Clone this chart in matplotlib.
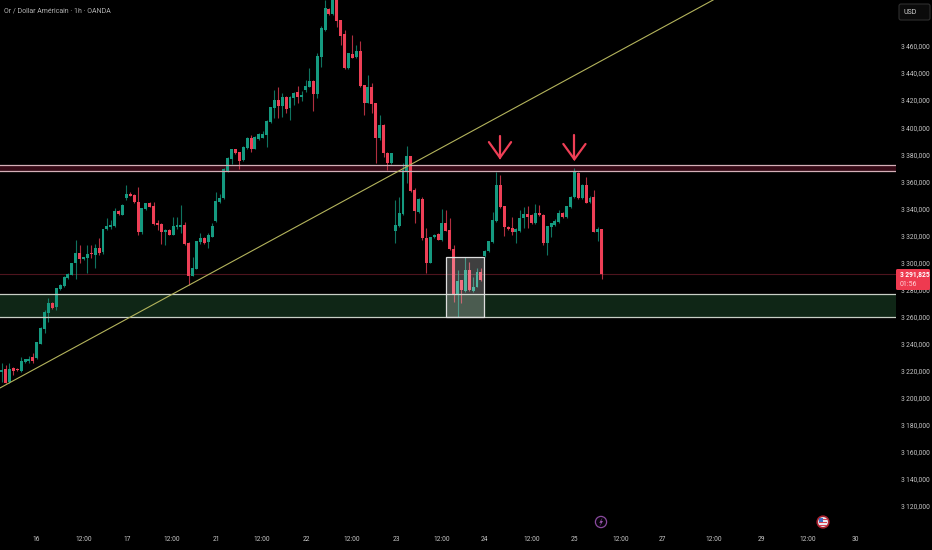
import matplotlib
matplotlib.use("Agg")
import matplotlib.pyplot as plt
from matplotlib.patches import Circle, FancyBboxPatch, Polygon, Rectangle
from matplotlib.transforms import IdentityTransform

opens = [3219,3221.1,3212,3222,3221.4,3220,3226.3,3227.5,3230.5,3229.7,
3240,3251,3263,3270,3267,3280.5,3282.7,3288.8,3291,3299.4,
3306.8,3302.4,3303,3306.8,3305.8,3311,3307.8,3324.6,3326,3327,
3337.9,3335.4,3347.5,3350.7,3350,3344.8,3322.6,3339.3,3343.8,3341.8,
3329.5,3328.3,3322.6,3324,3320.4,3326.5,3326.5,3327.8,3314.7,3290,
3295,3315,3318.4,3315,
3319,3331,3344.5,3347.5,3368,3376.5,3384,3381.4,3375.8,3384.4,
3392,3384,3391.5,3392,3394,3403.9,3414,3420,3415.7,3422.6,
3414,3421.3,3426,3422.6,3427.3,3430,3434.4,3424.5,3452,3471.8,
3487.6,3483.7,3497,3479,3468.6,3443.5,3453.9,3451.6,3456.3,3431,
3418,3429.5,3417.6,3391.8,3401.4,3381.2,3373.8,
3323.6,3327,3335.9,3367,3378.7,3353.6,3337.6,3346.7,
3318.4,3300,3318.7,3321,3316.7,3329.5,3324,3310.3,3276,3287,
3279,3294.6,3279,3282.2,3293.3,3304.9,3308.3,3315,3331,3357.4,
3341.4,3326,3325.3,3322.9,3323.4,3332.7,3336,3335.4,3329,3336.4,
3335.4,3314.3,3326.6,3328,3330.3,3336.4,3333.5,3340.9,3348.2,3366.5,
3347.5,3357.4,3344.8,3348.2,3322.6,3324.6]

closes = [3220.6,3211.3,3221.4,3220,3220.6,3227.5,3228.5,3229,3227.5,3241,
3251.4,3263.5,3270,3266.4,3281,3283.4,3289.6,3291.6,3300,3306.8,
3302.4,3303.9,3306,3306,3311,3306.8,3325,3327,3328,3338.4,
3335.6,3342.5,3350.7,3349.2,3344.8,3322.6,3340,3343.8,3341.3,3328.5,
3327.8,3322.6,3324,3320.4,3327,3327.5,3327.8,3314,3290,3296,
3316,3318,3314.7,3320,
3327,3345.5,3347.5,3369,3377.3,3384,3381,3375.3,3385.4,3392,
3384,3392.5,3395,3394.7,3404.3,3414.7,3420,3415.7,3422.6,3413.7,
3422,3425.5,3422,3423.8,3430.7,3434,3424.5,3452.6,3473,3487.8,
3483.7,3497,3478.7,3467.4,3443.5,3454.6,3451.4,3456.3,3430.5,3418,
3429.5,3417,3391.8,3401.4,3381.2,3373.3,3380.7,
3327.5,3336.4,3368.4,3378.7,3353,3338.3,3346.7,3318,
3300,3318.7,3320.4,3317,3329.5,3323.6,3309.8,3276,3286.7,3279.8,
3294.6,3279.8,3282.2,3293.3,3287,3308.6,3315.7,3331.5,3357.4,3340.9,
3326,3324.6,3322.9,3324.6,3333,3336,3334,3329,3336.4,3335,
3314.3,3327,3329,3331,3336.4,3333.5,3341.4,3348.7,3367.2,3347.5,
3357.4,3344.3,3348,3322.9,3324.6,3291.8]

highs = [3225.5,3224.3,3226,3223,3222,3230,3229,3231,3233,3241,
3252,3265,3273.6,3271,3281,3284,3290,3292,3300,3317,
3313,3304,3313,3313,3313.7,3318,3325,3332.7,3331.5,3340,
3339,3343,3357.3,3352,3351,3356,3340,3344,3345,3345,
3331.5,3329,3325,3325,3334,3334,3342.5,3330,3315,3304,
3316,3321.6,3319,3321.6,
3329,3352.4,3351,3370,3378,3384,3384,3382,3386,3393,
3394,3393.5,3396,3397.5,3405,3415,3427.5,3429.5,3425,3423,
3423,3426,3430.5,3427,3435,3443.5,3435,3454.6,3474.8,3494,
3488,3500,3500,3479,3471.8,3455,3468,3460.7,3464,3431,
3438.6,3432.4,3418,3409,3402,3382,3381,
3346,3348.7,3373.3,3386.4,3379,3354.8,3347.5,3348.7,
3325.3,3319,3321,3322,3339.4,3339,3332.7,3313,3294.6,3287,
3304.4,3300.7,3289.6,3295.8,3295.8,3309,3316,3337.7,3367.2,3364.7,
3342,3327,3334,3325.3,3338.9,3340.9,3341.8,3336,3343.3,3342.6,
3336,3327,3329.5,3332,3338.9,3337,3342,3349,3370,3367.2,
3358,3363,3349,3353.7,3326.6,3325]

lows = [3212,3210.8,3211,3217,3220,3219.4,3226,3226,3225.5,3229,
3240,3247.7,3256.3,3266,3265,3280,3282,3288,3291,3287.6,
3299.4,3302,3292.5,3303,3296,3305.6,3306,3324,3324.6,3326.5,
3335,3335,3346.2,3349,3344,3320.4,3321,3339,3341,3327.8,
3324,3314,3313,3320,3320,3325,3321.6,3313,3283.4,3290,
3295,3314,3314,3311,
3318.6,3330,3343.8,3347,3367,3373,3380,3369,3375,3384,
3382,3384,3390.6,3391.8,3385.6,3403,3406.6,3406.6,3407.8,3410.3,
3405.3,3416.4,3417.6,3419,3426,3429.5,3412,3421.3,3444.7,3471,
3483,3483,3474.3,3460.7,3443,3443,3451,3451,3430,3409,
3417.6,3410.3,3373.3,3390.6,3378,3368.4,3373,
3314.7,3326.5,3335,3358.5,3352.4,3329,3336.4,3316.7,
3292,3299.5,3318,3317,3316,3323,3309.3,3271,3260,3270,
3278.5,3279.3,3278.5,3281.7,3286.7,3304,3308,3314.3,3330.3,3340,
3319.7,3324,3320.4,3314.3,3322.9,3325.3,3325.3,3328.5,3328.5,3334.5,
3313,3305.6,3319,3327,3329,3333,3333,3340,3347.5,3347,
3347,3343.8,3344,3322.4,3316.2,3287.7]

x_tick_pos = [8.8,21.1,32.2,43.7,55,66.8,78.1,89.9,101.2,113,123.8,136.1,146.9,
              158.9,169.7,182.8,194.9,207,219]
x_tick_labels = ["16","12:00","17","12:00","21","12:00","22","12:00","23","12:00",
                 "24","12:00","25","12:00","27","12:00","29","12:00","30"]
y_ticks = [3120,3140,3160,3180,3200,3220,3240,3260,3280,3300,3320,3340,3360,
           3380,3400,3420,3440,3460]

resistance = (3367.8, 3372.3)
support = (3260.0, 3276.7)
last_price = 3291.825
box_x = (114.0, 123.9)
box_y = (3259.5, 3303.9)
trend_x = [-0.44, 182.6]
trend_y = [3207.3, 3494.0]
arrow_x = [127.9, 147.0]
arrow_tip = [3377.5, 3376.3]
arrow_top = [3393.5, 3394.0]
arrow_head = [3389.0, 3387.6]

BG = "#000000"
GREEN = "#159a80"
RED = "#ee3f56"
TXT = "#c8c8c8"
plt.rcParams["font.family"] = ["Roboto", "DejaVu Sans"]
FS = 4.8

W, H = 932, 550
fig = plt.figure(figsize=(W/100, H/100), dpi=100, facecolor=BG)
AX_R, AX_B = 896, 526
ax = fig.add_axes([0, (H-AX_B)/H, AX_R/W, AX_B/H], facecolor=BG)
ax.set_xlim(-0.436, (AX_R-1.7)/3.896)
ax.set_ylim(3494-0.739*AX_B, 3494)
for s in ax.spines.values():
    s.set_visible(False)

ax.axhspan(*resistance, color="#360a16", lw=0, zorder=1)
ax.axhspan(*support, color="#0f2616", lw=0, zorder=1)

xs = list(range(len(opens)))
cols = [GREEN if c >= o else RED for o, c in zip(opens, closes)]
ax.vlines(xs, lows, highs, colors=cols, lw=0.8, zorder=2, alpha=0.75)
bot = [min(o, c) for o, c in zip(opens, closes)]
hgt = [max(abs(c-o), 1.0) for o, c in zip(opens, closes)]
ax.bar(xs, hgt, bottom=bot, width=0.76, color=cols, lw=0, zorder=3)

for v in resistance:
    ax.axhline(v, color="#d4b0b8", lw=0.9, zorder=4)
for v in support:
    ax.axhline(v, color="#c8cfc6", lw=0.9, zorder=4)
ax.axhline(last_price, color="#4e141e", lw=0.8, zorder=1.5)

ax.add_patch(Rectangle((box_x[0], box_y[0]), box_x[1]-box_x[0], box_y[1]-box_y[0],
                       facecolor=(1, 1, 1, 0.25), edgecolor="#dedede", lw=0.9, zorder=5))
ax.plot(trend_x, trend_y, color="#b4b45c", lw=0.8, zorder=4)

for x, tip, top, head in zip(arrow_x, arrow_tip, arrow_top, arrow_head):
    ax.plot([x, x], [top, tip], color=RED, lw=1.6, zorder=6, solid_capstyle="round")
    ax.plot([x-2.85, x, x+2.85], [head, tip, head], color=RED, lw=1.6, zorder=6,
            solid_capstyle="round", solid_joinstyle="miter")

ax.set_xticks(x_tick_pos, x_tick_labels)
ax.set_yticks(y_ticks, [f"{v//1000}\u2009{v%1000:03d},000" for v in y_ticks])
ax.yaxis.tick_right()
ax.tick_params(axis="x", length=0, pad=7, labelsize=FS, labelcolor=TXT)
ax.tick_params(axis="y", length=0, pad=3.5, labelsize=FS, labelcolor=TXT)

I = IdentityTransform()
def py(y):
    return H - y

fig.text(4/W, 1-11/H, "Or / Dollar Américain · 1h · OANDA", color="#b0b0b0",
         fontsize=5.0, va="center", ha="left")

fig.add_artist(FancyBboxPatch((899, py(20)), 31, 16, boxstyle="round,pad=0,rounding_size=2",
                              transform=I, facecolor="#0b0b0b", edgecolor="#2e2e2e", lw=0.8))
fig.text(903/W, 1-12/H, "USD", color="#d0d0d0", fontsize=5.0, va="center", ha="left")

fig.add_artist(FancyBboxPatch((896, py(290)), 34, 21, boxstyle="round,pad=0,rounding_size=1.5",
                              transform=I, facecolor="#ee3a50", edgecolor="none", zorder=5))
fig.text(900/W, 1-274.5/H, f"{int(last_price)//1000}\u2009{int(last_price)%1000:03d},825",
         color="white", fontsize=4.8, fontweight="bold", va="center", zorder=6)
fig.text(900/W, 1-284/H, "01:56", color="#ffd2d8", fontsize=5.0, va="center", zorder=6)

fig.add_artist(Circle((601, py(522)), 5.6, transform=I, facecolor="#07030a",
                      edgecolor="#8a4a9e", lw=0.9))
fig.add_artist(Polygon([(602.5, py(517.5)), (599.3, py(522.8)), (601, py(522.8)),
                        (599.6, py(526.5)), (603, py(521)), (601.2, py(521))],
                       transform=I, facecolor="#9a55ad", edgecolor="none"))
fig.add_artist(Circle((823, py(522)), 5.8, transform=I, facecolor="#e8e8ee",
                      edgecolor="#a8202e", lw=1.2))
for yy in (519.5, 522.5, 525.5):
    fig.add_artist(Rectangle((819, py(yy+0.8)), 8, 1.3, transform=I, facecolor="#d84050", edgecolor="none"))
fig.add_artist(Rectangle((819, py(522)), 4, 4, transform=I, facecolor="#3f6fc0", edgecolor="none"))

fig.savefig("out.png", dpi=100, facecolor=BG)
